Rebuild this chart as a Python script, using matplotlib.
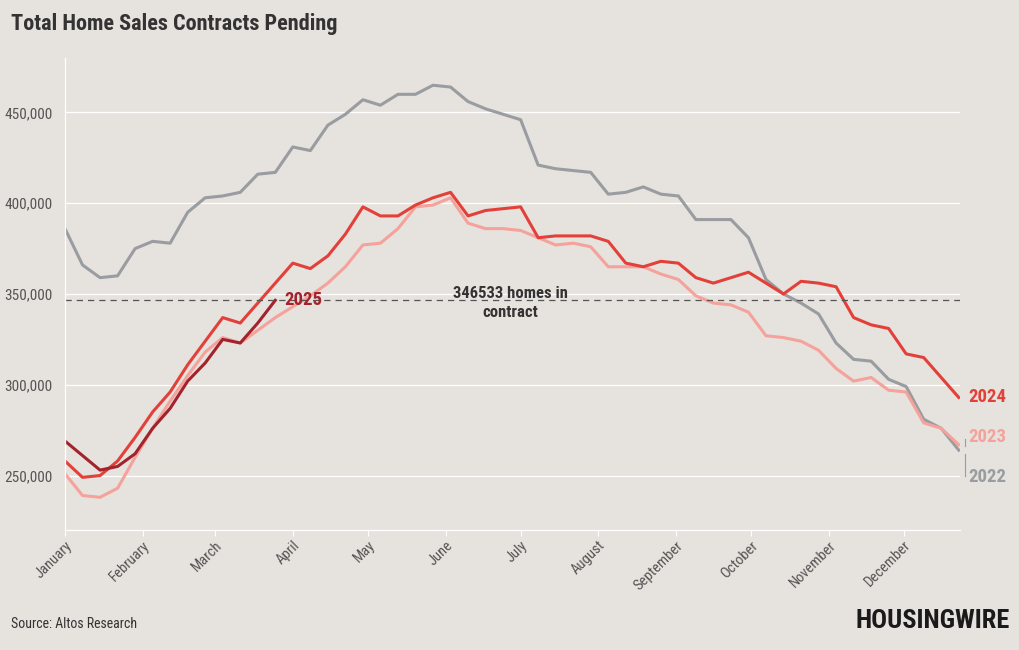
import numpy as np
import pandas as pd
import matplotlib
matplotlib.use('Agg')
import matplotlib.pyplot as plt
import matplotlib.dates as mdates
from matplotlib.ticker import FuncFormatter
from matplotlib import font_manager

# condensed face if there is one, Roboto otherwise
names = {f.name for f in font_manager.fontManager.ttflist}
fam = [n for n in ['Roboto Condensed', 'Liberation Sans Narrow'] if n in names]
plt.rcParams['font.family'] = fam + ['Roboto', 'DejaVu Sans']
narrow = len(fam) > 0

# weekly readings, thousands of homes
weeks = pd.date_range('2024-01-01', periods=52, freq='7D')

sales_2022 = [386, 366, 359, 360, 375, 379, 378, 395, 403, 404, 406, 416, 417,
              431, 429, 443, 449, 457, 454, 460, 460, 465, 464, 456, 452, 449,
              446, 421, 419, 418, 417, 405, 406, 409, 405, 404, 391, 391, 391,
              381, 358, 350, 345, 339, 323, 314, 313, 303, 299, 281, 276, 264]
sales_2023 = [251, 239, 238, 243, 260, 276, 291, 305, 318, 326, 323, 330, 337,
              343, 349, 356, 365, 377, 378, 386, 398, 399, 403, 389, 386, 386,
              385, 381, 377, 378, 376, 365, 365, 365, 361, 358, 349, 345, 344,
              340, 327, 326, 324, 319, 309, 302, 304, 297, 296, 279, 276, 267]
sales_2024 = [258, 249, 250, 258, 271, 285, 296, 311, 324, 337, 334, 345, 356,
              367, 364, 371, 383, 398, 393, 393, 399, 403, 406, 393, 396, 397,
              398, 381, 382, 382, 382, 379, 367, 365, 368, 367, 359, 356, 359,
              362, 356, 350, 357, 356, 354, 337, 333, 331, 317, 315, 304, 293]
sales_2025 = [269, 261, 253, 255, 262, 276, 287, 302, 312, 325, 323, 334, 346.533]

current = 346533

bg = '#e6e2dd'
c2022 = '#999ca0'
c2023 = '#f4a29b'
c2024 = '#e3403a'
c2025 = '#a2232b'

k = 1.0 if narrow else 0.86  # shrink text when only the wide face is there

fig = plt.figure(figsize=(10.2, 6.5), dpi=100, facecolor=bg)
ax = fig.add_axes([65 / 1020, 1 - 530 / 650, 895 / 1020, 472 / 650])
ax.set_facecolor(bg)

ax.plot(weeks, np.array(sales_2022) * 1000, color=c2022, lw=2.2, solid_joinstyle='round')
ax.plot(weeks, np.array(sales_2023) * 1000, color=c2023, lw=2.2, solid_joinstyle='round')
ax.plot(weeks, np.array(sales_2024) * 1000, color=c2024, lw=2.2, solid_joinstyle='round')
ax.plot(weeks[:len(sales_2025)], np.array(sales_2025) * 1000, color=c2025, lw=2.2,
        solid_joinstyle='round')

ax.axhline(current, color='#555555', lw=0.9, ls=(0, (5, 4)))
ax.text(pd.Timestamp('2024-06-27'), current - 1500, f'{current} homes in\ncontract',
        ha='center', va='center', fontsize=12 * k, fontweight='bold', color='#333333',
        linespacing=1.4)

# series labels
end = weeks[-1] + pd.Timedelta(days=4)
ax.text(weeks[len(sales_2025) - 1] + pd.Timedelta(days=3.5), current, '2025',
        color=c2025, fontsize=13.5 * k, fontweight='bold', va='center', ha='left')
ax.text(end, sales_2024[-1] * 1000, '2024', color=c2024, fontsize=13.5 * k,
        fontweight='bold', va='center', ha='left')
ax.text(end, 271000, '2023', color=c2023, fontsize=13.5 * k, fontweight='bold',
        va='center', ha='left')
ax.text(end, 249000, '2022', color=c2022, fontsize=13.5 * k, fontweight='bold',
        va='center', ha='left')
lx = weeks[-1] + pd.Timedelta(days=2.5)
ax.plot([lx, lx], [270000, sales_2023[-1] * 1000 - 1000], color=c2022, lw=0.8, clip_on=False)
ax.plot([lx, lx], [sales_2022[-1] * 1000 - 2000, 250000], color=c2022, lw=0.8, clip_on=False)

ax.set_xlim(pd.Timestamp('2024-01-01'), pd.Timestamp('2024-01-01') + pd.Timedelta(days=357.5))
ax.set_ylim(220000, 480000)
ax.set_yticks([250000, 300000, 350000, 400000, 450000])
ax.yaxis.set_major_formatter(FuncFormatter(lambda v, p: f'{int(v):,}'))
ax.xaxis.set_major_locator(mdates.MonthLocator())
ax.xaxis.set_major_formatter(mdates.DateFormatter('%B'))

ax.grid(axis='y', color='white', lw=0.9)
ax.set_axisbelow(True)
for s in ['top', 'right']:
    ax.spines[s].set_visible(False)
for s in ['left', 'bottom']:
    ax.spines[s].set_color('white')
    ax.spines[s].set_linewidth(0.9)
ax.tick_params(axis='y', length=0, labelsize=11 * k, labelcolor='#555555', pad=9)
ax.tick_params(axis='x', length=4, color='white', labelsize=10.5 * k, labelcolor='#555555', pad=2)
for lab in ax.get_xticklabels():
    lab.set_rotation(45)
    lab.set_ha('right')
    lab.set_rotation_mode('anchor')

fig.text(11 / 1020, 1 - 24 / 650, 'Total Home Sales Contracts Pending', fontsize=16 * k,
         fontweight='bold', color='#333333', va='center', ha='left')
fig.text(11 / 1020, 1 - 624 / 650, 'Source: Altos Research', fontsize=10 * k,
         color='#333333', va='center', ha='left')
fig.text(1010 / 1020, 1 - 621 / 650, 'HOUSINGWIRE', fontsize=19 * k, fontweight='heavy',
         color='#1a1a1a', va='center', ha='right')

fig.savefig('out.png', dpi=100, facecolor=bg)
